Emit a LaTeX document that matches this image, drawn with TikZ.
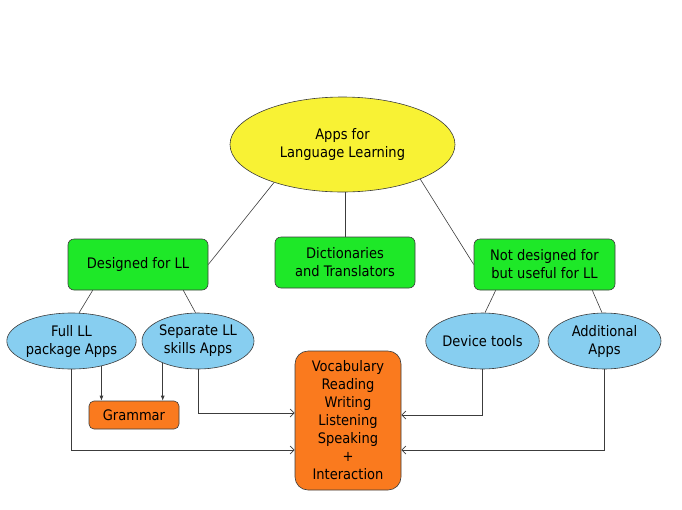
\documentclass[tikz,border=0pt]{standalone}
\usepackage{fontspec}
\setmainfont{DejaVu Sans Condensed}
\usetikzlibrary{shapes.geometric,arrows.meta}
\definecolor{cyel}{RGB}{248,242,52}
\definecolor{cgrn}{RGB}{30,232,40}
\definecolor{cblu}{RGB}{135,206,240}
\definecolor{corg}{RGB}{250,122,30}
\definecolor{cln}{RGB}{60,60,60}
\tikzset{
  txt/.style={font=\fontsize{14.5}{18}\selectfont, align=center, text=black},
  ell/.style={txt, ellipse, draw=cln, line width=0.6pt, inner sep=0pt, fill=cblu, minimum width=113pt, minimum height=56pt},
  gbox/.style={txt, rectangle, rounded corners=6pt, draw=cln, line width=0.6pt, fill=cgrn, inner sep=0pt, minimum width=140pt, minimum height=51pt},
  obox/.style={txt, rectangle, draw=cln, line width=0.6pt, fill=corg, inner sep=0pt},
  link/.style={draw=cln, line width=0.6pt},
  arr/.style={draw=cln, line width=0.7pt, -{Straight Barb[length=4pt,width=8pt]}},
  darr/.style={draw=cln, line width=0.7pt, -{Latex[length=5pt,width=4pt]}}
}
\begin{document}
\begin{tikzpicture}[x=1pt,y=-1pt]
\useasboundingbox (0,0) rectangle (682,509);
\node[txt, ellipse, draw=cln, line width=0.6pt, fill=cyel, inner sep=0pt, minimum width=225pt, minimum height=95pt] (root) at (342.5,144.5) {Apps for\\Language Learning};
\node[gbox] (des) at (138,264.5) {Designed for LL};
\node[gbox] (dic) at (345,262.5) {Dictionaries\\and Translators};
\node[gbox, minimum width=141pt] (nod) at (544.5,264.5) {Not designed for\\but useful for LL};
\node[ell] (full) at (71.5,341) {Full LL\\package Apps};
\node[ell, minimum width=112pt] (sep) at (198,341) {Separate LL\\skills Apps};
\node[ell] (dev) at (482.5,341) {Device tools};
\node[ell] (add) at (604.5,341) {Additional\\Apps};
\node[obox, rounded corners=5pt, minimum width=90pt, minimum height=28pt] (gram) at (134,415) {Grammar};
\node[obox, rounded corners=13pt, minimum width=106pt, minimum height=139pt] (skl) at (348,420.5) {Vocabulary\\Reading\\Writing\\Listening\\Speaking\\+\\Interaction};

\draw[link] (root.209) -- (des.east);
\draw[link] (root.336) -- (nod.west);
\draw[link] (dic.north) -- (dic.north |- root.south);
\draw[link] ([xshift=25pt]des.south west) -- (full.75);
\draw[link] ([xshift=-25pt]des.south east) -- (sep.95);
\draw[link] ([xshift=22pt]nod.south west) -- (dev.85);
\draw[link] ([xshift=-23pt]nod.south east) -- (add.95);

\draw[darr] (full.-40) -- (full.-40 |- gram.north);
\draw[darr] (sep.212) -- (sep.212 |- gram.north);
\draw[arr] (sep.south) |- ([yshift=7.5pt]skl.west);
\draw[arr] (full.south) |- ([yshift=-29.5pt]skl.west);
\draw[arr] (dev.south) |- ([yshift=5.5pt]skl.east);
\draw[arr] (add.south) |- ([yshift=-29.5pt]skl.east);
\end{tikzpicture}
\end{document}
